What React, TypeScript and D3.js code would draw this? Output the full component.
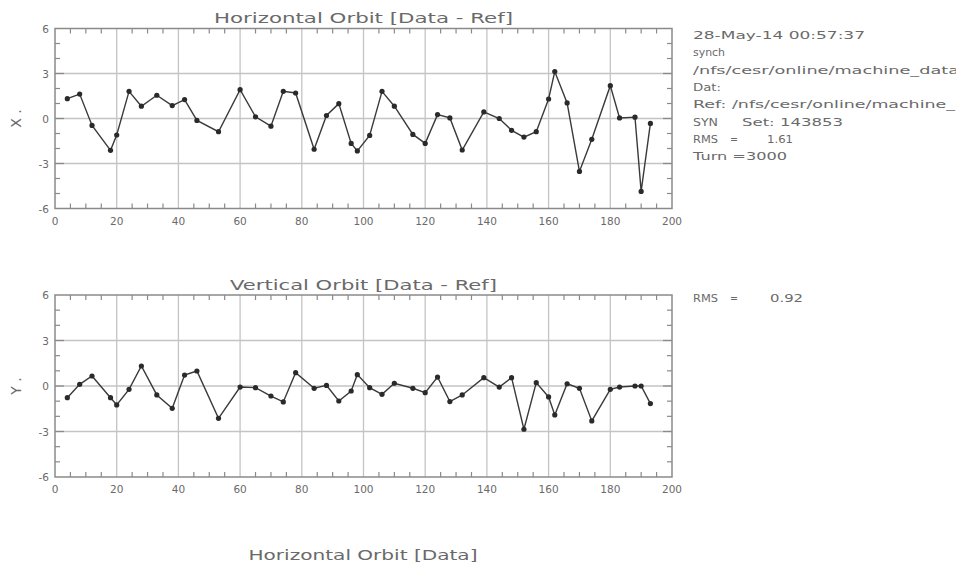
import React from "react";
import * as d3 from "d3";

// BPM longitudinal index (detector number) shared by both planes
const bpmIndex = [
  4, 8, 12, 18, 20, 24, 28, 33, 38, 42, 46, 53, 60, 65, 70, 74, 78, 84, 88, 92,
  96, 98, 102, 106, 110, 116, 120, 124, 128, 132, 139, 144, 148, 152, 156, 160,
  162, 166, 170, 174, 180, 183, 188, 190, 193,
];

// Horizontal orbit difference (Data - Ref)
const horizontalDiff = [
  1.32, 1.63, -0.46, -2.12, -1.1, 1.81, 0.82, 1.55, 0.86, 1.26, -0.13, -0.88,
  1.92, 0.11, -0.51, 1.81, 1.7, -2.05, 0.2, 0.99, -1.66, -2.16, -1.13, 1.81,
  0.82, -1.06, -1.66, 0.26, 0.04, -2.1, 0.44, 0.0, -0.79, -1.24, -0.88, 1.3,
  3.13, 1.04, -3.53, -1.39, 2.19, 0.04, 0.09, -4.86, -0.33,
];

// Vertical orbit difference (Data - Ref)
const verticalDiff = [
  -0.77, 0.11, 0.66, -0.77, -1.25, -0.22, 1.32, -0.59, -1.47, 0.72, 0.99,
  -2.13, -0.07, -0.11, -0.66, -1.05, 0.88, -0.15, 0.04, -0.99, -0.33, 0.75,
  -0.11, -0.55, 0.18, -0.15, -0.44, 0.59, -1.03, -0.59, 0.55, -0.07, 0.55,
  -2.85, 0.22, -0.72, -1.91, 0.15, -0.15, -2.3, -0.22, -0.07, 0.0, 0.0, -1.16,
];

const xTickValues = [0, 20, 40, 60, 80, 100, 120, 140, 160, 180, 200];
const yTickValues = [6, 3, 0, -3, -6];
const yTickLabels = ["6", "3", "0", "-3", "-6"];

const FONT = "'DejaVu Sans', 'Liberation Sans', sans-serif";
const TEXT = "#6a6a6a";
const FRAME = "#8a8a8a";
const GRID = "#c4c4c4";

type PanelProps = {
  top: number;
  bottom: number;
  title: string;
  titleY: number;
  titleLen: number;
  axisLabel: string;
  values: number[];
};

function Panel({ top, bottom, title, titleY, titleLen, axisLabel, values }: PanelProps) {
  const left = 55;
  const right = 672;
  const x = d3.scaleLinear().domain([0, 200]).range([left, right]);
  const y = d3.scaleLinear().domain([-6, 6]).range([bottom, top]);

  const line = d3
    .line<number>()
    .x((_, i) => x(bpmIndex[i]))
    .y((d) => y(d));

  const xMinor = d3.range(0, 201, 5).filter((v) => v % 20 !== 0);
  const yMinor = d3.range(-6, 7, 1).filter((v) => v % 3 !== 0);
  const tick = 5;

  return (
    <g>
      <text
        x={(left + right) / 2}
        y={titleY}
        textAnchor="middle"
        fontFamily={FONT}
        fontSize={14}
        fill={TEXT}
        textLength={titleLen}
        lengthAdjust="spacingAndGlyphs"
      >
        {title}
      </text>

      {/* grid at major ticks */}
      {xTickValues.slice(1, -1).map((v) => (
        <line key={"gx" + v} x1={x(v)} x2={x(v)} y1={top} y2={bottom} stroke={GRID} strokeWidth={1.3} />
      ))}
      {yTickValues.slice(1, -1).map((v) => (
        <line key={"gy" + v} x1={left} x2={right} y1={y(v)} y2={y(v)} stroke={GRID} strokeWidth={1.3} />
      ))}

      {/* minor ticks, pointing inward on all four sides */}
      {xMinor.map((v) => (
        <g key={"mx" + v}>
          <line x1={x(v)} x2={x(v)} y1={top} y2={top + tick} stroke={FRAME} strokeWidth={1.2} />
          <line x1={x(v)} x2={x(v)} y1={bottom} y2={bottom - tick} stroke={FRAME} strokeWidth={1.2} />
        </g>
      ))}
      {yMinor.map((v) => (
        <g key={"my" + v}>
          <line x1={left} x2={left + tick} y1={y(v)} y2={y(v)} stroke={FRAME} strokeWidth={1.2} />
          <line x1={right} x2={right - tick} y1={y(v)} y2={y(v)} stroke={FRAME} strokeWidth={1.2} />
        </g>
      ))}
      {yTickValues.slice(1, -1).map((v) => (
        <g key={"My" + v}>
          <line x1={left} x2={left + 9} y1={y(v)} y2={y(v)} stroke={FRAME} strokeWidth={1.3} />
          <line x1={right} x2={right - 9} y1={y(v)} y2={y(v)} stroke={FRAME} strokeWidth={1.3} />
        </g>
      ))}

      <rect x={left} y={top} width={right - left} height={bottom - top} fill="none" stroke={FRAME} strokeWidth={1.5} />

      {/* tick labels */}
      {xTickValues.map((v) => (
        <text
          key={"lx" + v}
          x={x(v)}
          y={bottom + 16}
          textAnchor="middle"
          fontFamily={FONT}
          fontSize={10.5}
          fill={TEXT}
        >
          {String(v)}
        </text>
      ))}
      {yTickValues.map((v, i) => (
        <text
          key={"ly" + v}
          x={left - 6}
          y={y(v) + 4}
          textAnchor="end"
          fontFamily={FONT}
          fontSize={10.5}
          fill={TEXT}
        >
          {yTickLabels[i]}
        </text>
      ))}

      <text
        transform={`translate(21, ${(top + bottom) / 2}) rotate(-90)`}
        textAnchor="middle"
        fontFamily={FONT}
        fontSize={14}
        fill={TEXT}
      >
        {axisLabel}
      </text>

      {/* orbit trace */}
      <path d={line(values) ?? ""} fill="none" stroke="#3a3a3a" strokeWidth={1.4} />
      {values.map((v, i) => (
        <circle key={"p" + i} cx={x(bpmIndex[i])} cy={y(v)} r={2.6} fill="#2a2a2a" />
      ))}
    </g>
  );
}

type InfoPiece = { text: string; x: number; len: number };
const infoLines: InfoPiece[][] = [
  [{ text: "28-May-14 00:57:37", x: 693, len: 172 }],
  [{ text: "synch", x: 693, len: 32 }],
  [{ text: "/nfs/cesr/online/machine_data", x: 693, len: 266 }],
  [{ text: "Dat:", x: 693, len: 28 }],
  [{ text: "Ref: /nfs/cesr/online/machine_", x: 693, len: 262 }],
  [
    { text: "SYN", x: 693, len: 25 },
    { text: "Set: 143853", x: 742, len: 101 },
  ],
  [
    { text: "RMS", x: 693, len: 25 },
    { text: "=", x: 730, len: 8 },
    { text: "1.61", x: 767, len: 26 },
  ],
  [{ text: "Turn =3000", x: 693, len: 94 }],
];

export default function App() {
  return (
    <svg
      width={956}
      height={563}
      style={{ position: "absolute", left: 0, top: 0, background: "#fff" }}
    >
      <rect width={956} height={563} fill="#fff" />
      <Panel
        top={28.5}
        bottom={208.5}
        title="Horizontal Orbit [Data - Ref]"
        titleY={23}
        titleLen={299}
        axisLabel="X ."
        values={horizontalDiff}
      />
      <Panel
        top={295}
        bottom={477}
        title="Vertical Orbit [Data - Ref]"
        titleY={290}
        titleLen={267}
        axisLabel="Y ."
        values={verticalDiff}
      />

      {infoLines.map((pieces, row) =>
        pieces.map((p, k) => (
          <text
            key={row + "-" + k}
            x={p.x}
            y={39 + row * 17.3}
            fontFamily={FONT}
            fontSize={11}
            fill={TEXT}
            textLength={p.len}
            lengthAdjust="spacingAndGlyphs"
          >
            {p.text}
          </text>
        ))
      )}

      <text x={693} y={302} fontFamily={FONT} fontSize={11} fill={TEXT} textLength={25} lengthAdjust="spacingAndGlyphs">RMS</text>
      <text x={730} y={302} fontFamily={FONT} fontSize={11} fill={TEXT} textLength={8} lengthAdjust="spacingAndGlyphs">=</text>
      <text x={770} y={302} fontFamily={FONT} fontSize={11} fill={TEXT} textLength={33} lengthAdjust="spacingAndGlyphs">0.92</text>

      <text
        x={363}
        y={560}
        textAnchor="middle"
        fontFamily={FONT}
        fontSize={14}
        fill={TEXT}
        textLength={229}
        lengthAdjust="spacingAndGlyphs"
      >
        Horizontal Orbit [Data]
      </text>
    </svg>
  );
}
